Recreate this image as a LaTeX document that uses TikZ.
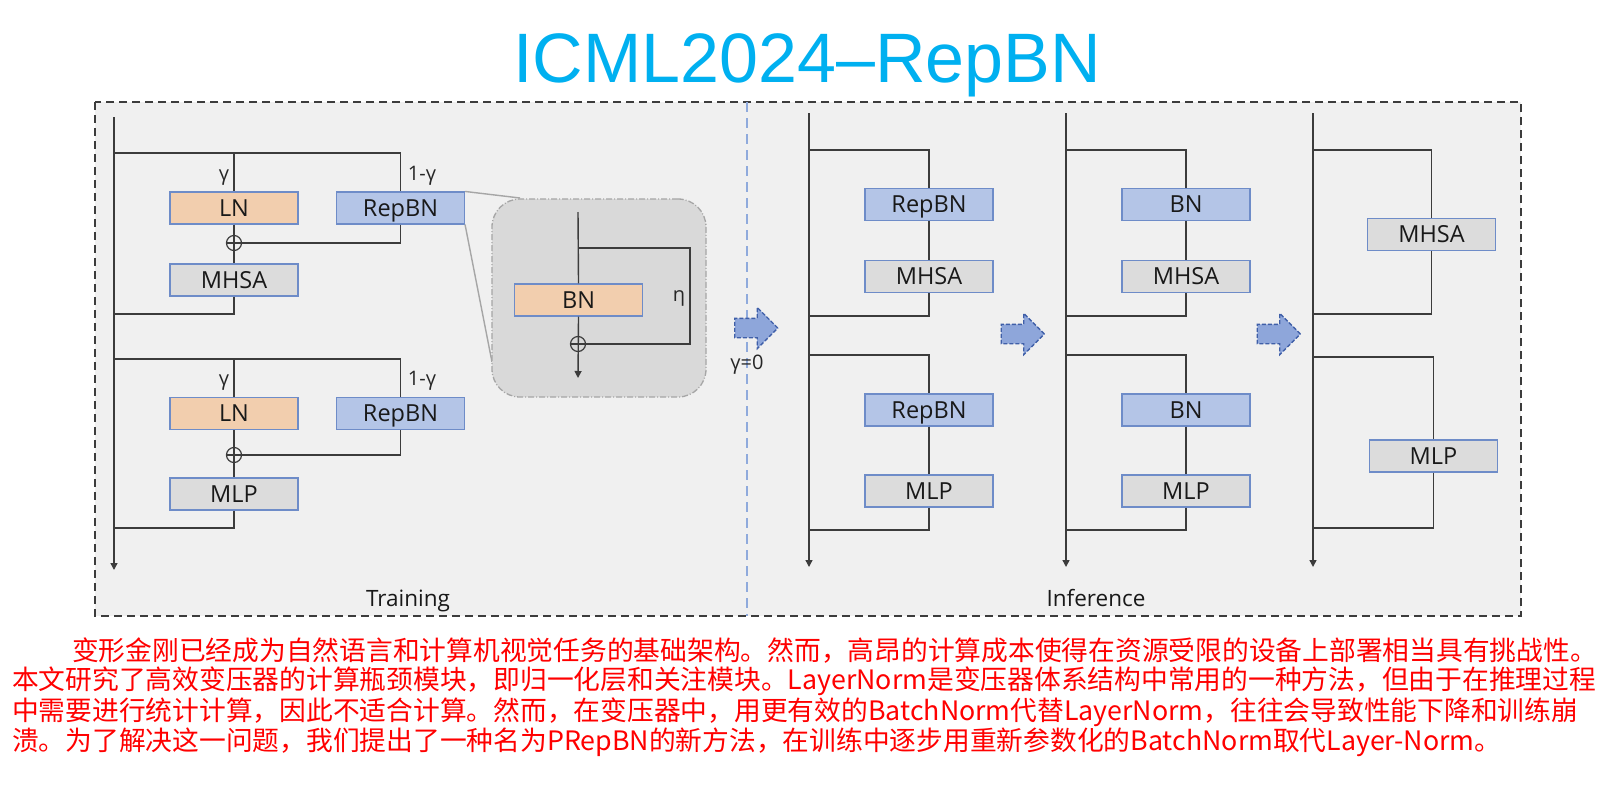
\documentclass[tikz,border=0pt]{standalone}
\usepackage{fontspec}
\setmainfont{Open Sans}
\newfontfamily\cjk{Noto Sans CJK SC}
\newfontfamily\titlefont{Liberation Sans}
\usetikzlibrary{arrows.meta,shapes.arrows}
\definecolor{panelGray}{HTML}{F0F0F0}
\definecolor{zoomGray}{HTML}{D9D9D9}
\definecolor{zoomEdge}{HTML}{A6A6A6}
\definecolor{lnPeach}{HTML}{F2CEAE}
\definecolor{bnBlue}{HTML}{B4C5E7}
\definecolor{opGray}{HTML}{DCDCDC}
\definecolor{boxEdge}{HTML}{6E8CC8}
\definecolor{wireDark}{HTML}{3C3C3C}
\definecolor{titleCyan}{HTML}{00B0F0}
\definecolor{arrowBlue}{HTML}{8EA6DA}
\definecolor{arrowEdge}{HTML}{3F5FA8}
\definecolor{splitBlue}{HTML}{8FAADC}

\tikzset{
  wire/.style={draw=wireDark, line width=1.4pt},
  flow/.style={wire, -{Triangle[width=7pt,length=7pt]}},
  blk/.style={draw=boxEdge, line width=1.1pt, minimum width=128pt, minimum height=32pt,
    inner sep=0pt, text height=16.5pt, text depth=0pt, text=black!90,
    font=\fontsize{23.5}{26}\selectfont},
  lnblk/.style={blk, fill=lnPeach},
  bnblk/.style={blk, fill=bnBlue},
  opblk/.style={blk, fill=opGray},
  addop/.style={circle, draw=wireDark, line width=1.2pt, minimum size=15pt, inner sep=0pt},
  wlab/.style={font=\fontsize{20}{22}\selectfont, inner sep=0pt, text=black!85},
  fwdarrow/.style={single arrow, draw=arrowEdge, fill=arrowBlue, line width=1.3pt,
    dash pattern=on 4pt off 2pt, minimum height=43pt, inner sep=9pt,
    single arrow head extend=11pt, single arrow head indent=0pt},
  cnline/.style={anchor=west, inner sep=0pt, text=red, font=\cjk\fontsize{26.75}{30}\selectfont}
}

\begin{document}
\begin{tikzpicture}[x=1pt, y=-1pt]
\useasboundingbox (0,0) rectangle (1616,790);

\node[font=\titlefont\fontsize{70}{80}\selectfont, text=titleCyan, anchor=base] (title) at (807,82) {ICML2024–RepBN};

% frame and divider
\draw[fill=panelGray, draw=wireDark, line width=1.4pt, dash pattern=on 8pt off 5pt] (95,102) rectangle (1521,616);
\draw[splitBlue, line width=1.4pt, dash pattern=on 10pt off 6pt] (747,102) -- (747,616);

% training
\coordinate (tin) at (114,117);
\coordinate (tout) at (114,570);
\coordinate (ts1) at (114,153);
\coordinate (te1) at (114,314);
\coordinate (ts2) at (114,359);
\coordinate (te2) at (114,528);

\node[lnblk] (ln1) at (234,208) {LN};
\node[bnblk] (rep1) at (400.5,208) {RepBN};
\node[addop] (add1) at (234,243) {};
\node[opblk] (att1) at (234,280) {MHSA};
\node[wlab] (g1) at (224,178) {γ};
\node[wlab] (h1) at (422,176) {1-γ};

\node[lnblk] (ln2) at (234,413.5) {LN};
\node[bnblk] (rep2) at (400.5,413.5) {RepBN};
\node[addop] (add2) at (234,455) {};
\node[opblk] (ffn1) at (234,494) {MLP};
\node[wlab] (g2) at (224,383) {γ};
\node[wlab] (h2) at (422,381) {1-γ};

\draw[flow] (tin) -- (tout);
\draw[wire] (ts1) -| (rep1.north);
\draw[wire] (ln1.north |- ts1) -- (ln1.north);
\draw[wire] (ln1.south) -- (att1.north);
\draw[wire] (rep1.south) |- (add1.east);
\draw[wire] (add1.west) -- (add1.east);
\draw[wire] (att1.south) |- (te1);
\draw[wire] (ts2) -| (rep2.north);
\draw[wire] (ln2.north |- ts2) -- (ln2.north);
\draw[wire] (ln2.south) -- (ffn1.north);
\draw[wire] (rep2.south) |- (add2.east);
\draw[wire] (add2.west) -- (add2.east);
\draw[wire] (ffn1.south) |- (te2);

\node[font=\fontsize{22.5}{26}\selectfont, anchor=base, text=black!90] (train) at (408,606) {Training};

% zoom on RepBN
\coordinate (zmA) at (520,198);
\coordinate (zmB) at (492,362);
\draw[zoomEdge, line width=1.4pt] (rep1.north east) -- (zmA) (rep1.south east) -- (zmB);
\node[draw=zoomEdge, fill=zoomGray, line width=1.3pt, dash pattern=on 6pt off 2pt on 1pt off 2pt,
  rounded corners=28pt, minimum width=214pt, minimum height=198pt] (zm) at (599,298) {};
\coordinate (zin) at (578,212);
\coordinate (zout) at (578,378);
\coordinate (zb) at (578,248);
\coordinate (zr) at (690,344);
\node[lnblk] (bn0) at (578.5,300) {BN};
\node[addop] (add0) at (578,344) {};
\node[wlab] (eta) at (679,298) {η};
\draw[wire] (zin) -- (bn0.north);
\draw[flow] (bn0.south) -- (zout);
\draw[wire] (zb) -| (zr) -- (add0.east);
\draw[wire] (add0.west) -- (add0.east);

% arrows between stages
\node[fwdarrow] (fa1) at (751.5,328) {};
\node[fwdarrow] (fa2) at (1018,334) {};
\node[fwdarrow] (fa3) at (1274,334) {};
\node[font=\fontsize{20}{22}\selectfont, anchor=base, text=black!85] (gz) at (747,369) {γ=0};

% inference
\foreach \px/\lab/\tag in {809/RepBN/a,1066/BN/b}{
  \coordinate (in\tag) at (\px,113);
  \coordinate (out\tag) at (\px,567);
  \coordinate (s\tag1) at (\px,150);
  \coordinate (e\tag1) at (\px,316);
  \coordinate (s\tag2) at (\px,355);
  \coordinate (e\tag2) at (\px,530);
  \node[bnblk] (n\tag1) at (\px+120,204.5) {\lab};
  \node[opblk] (m\tag1) at (\px+120,276.5) {MHSA};
  \node[bnblk] (n\tag2) at (\px+120,410) {\lab};
  \node[opblk] (m\tag2) at (\px+120,491) {MLP};
  \draw[flow] (in\tag) -- (out\tag);
  \draw[wire] (s\tag1) -| (n\tag1.north);
  \draw[wire] (n\tag1.south) -- (m\tag1.north);
  \draw[wire] (m\tag1.south) |- (e\tag1);
  \draw[wire] (s\tag2) -| (n\tag2.north);
  \draw[wire] (n\tag2.south) -- (m\tag2.north);
  \draw[wire] (m\tag2.south) |- (e\tag2);
}

\coordinate (inc) at (1313,113);
\coordinate (outc) at (1313,567);
\coordinate (sc1) at (1313,150);
\coordinate (ec1) at (1313,314);
\coordinate (sc2) at (1313,357);
\coordinate (ec2) at (1313,528);
\node[opblk] (mc1) at (1431.5,234.5) {MHSA};
\node[opblk] (mc2) at (1433.5,456) {MLP};
\draw[flow] (inc) -- (outc);
\draw[wire] (sc1) -| (mc1.north);
\draw[wire] (mc1.south) |- (ec1);
\draw[wire] (sc2) -| (mc2.north);
\draw[wire] (mc2.south) |- (ec2);

\node[font=\fontsize{22.5}{26}\selectfont, anchor=base, text=black!90] (infer) at (1096,606) {Inference};

% abstract
\node[cnline] (line1) at (72,651) {变形金刚已经成为自然语言和计算机视觉任务的基础架构。然而，高昂的计算成本使得在资源受限的设备上部署相当具有挑战性。};
\node[cnline] (line2) at (12,681) {本文研究了高效变压器的计算瓶颈模块，即归一化层和关注模块。LayerNorm是变压器体系结构中常用的一种方法，但由于在推理过程};
\node[cnline] (line3) at (12,712) {中需要进行统计计算，因此不适合计算。然而，在变压器中，用更有效的BatchNorm代替LayerNorm，往往会导致性能下降和训练崩};
\node[cnline] (line4) at (12,742) {溃。为了解决这一问题，我们提出了一种名为PRepBN的新方法，在训练中逐步用重新参数化的BatchNorm取代Layer-Norm。};
\end{tikzpicture}
\end{document}
